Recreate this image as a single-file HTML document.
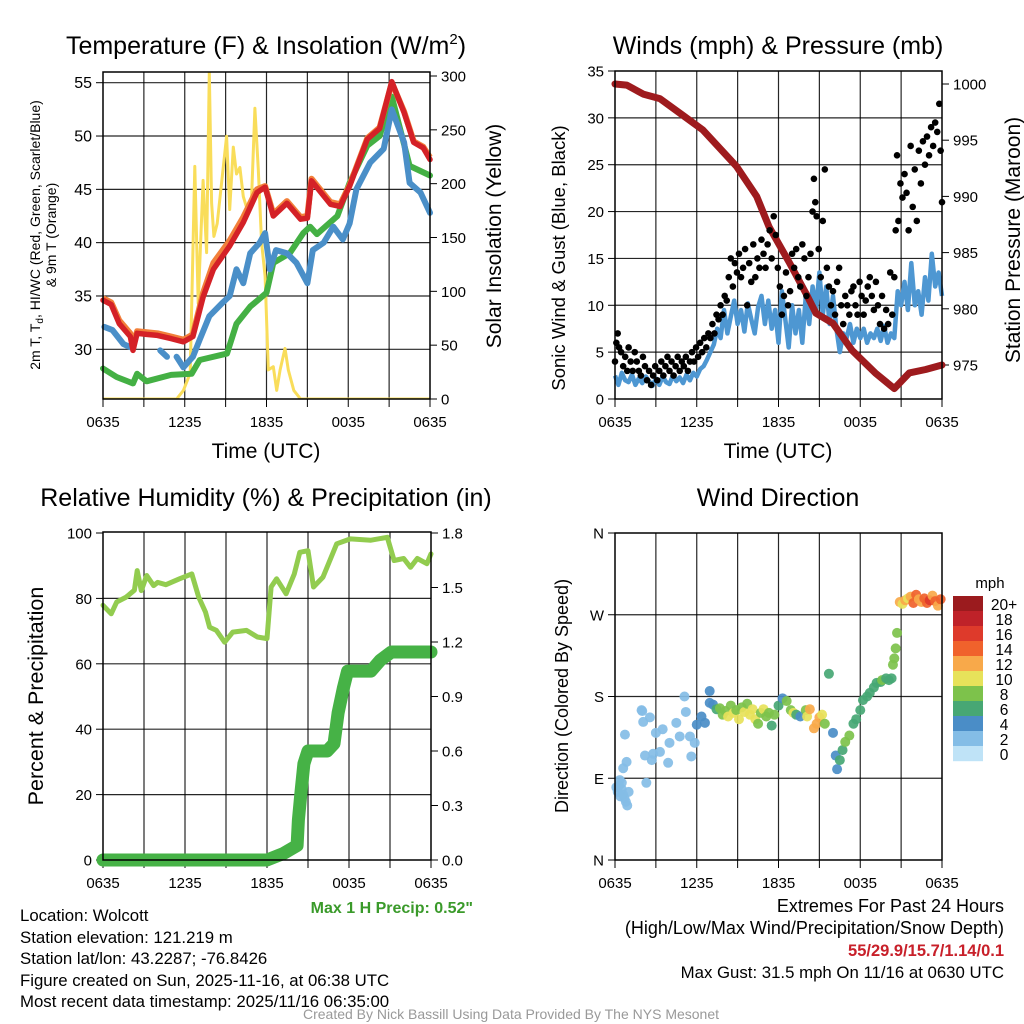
<!DOCTYPE html>
<html><head><meta charset="utf-8"><style>
body{margin:0;background:#fff;}
svg{display:block;font-family:"Liberation Sans",Arial,sans-serif;}
</style></head><body>
<svg id="fig" width="1024" height="1024" viewBox="0 0 1024 1024" xmlns="http://www.w3.org/2000/svg">
<rect width="1024" height="1024" fill="#fff"/>
<text x="266" y="54" font-size="25" text-anchor="middle">Temperature (F) &amp; Insolation (W/m<tspan dy="-10" font-size="15">2</tspan><tspan dy="10">)</tspan></text>
<text x="778" y="54" font-size="25" text-anchor="middle">Winds (mph) &amp; Pressure (mb)</text>
<text x="266" y="506" font-size="25" text-anchor="middle">Relative Humidity (%) &amp; Precipitation (in)</text>
<text x="778" y="506" font-size="25" text-anchor="middle">Wind Direction</text>
<text x="266" y="458" font-size="21" text-anchor="middle">Time (UTC)</text>
<text x="778" y="458" font-size="21" text-anchor="middle">Time (UTC)</text>
<text transform="translate(40,235) rotate(-90)" font-size="14" text-anchor="middle">2m T, T<tspan font-size="10" dy="3">d</tspan><tspan dy="-3">, HI/WC (Red, Green, Scarlet/Blue)</tspan></text>
<text transform="translate(56,235) rotate(-90)" font-size="14" text-anchor="middle">&amp; 9m T (Orange)</text>
<text transform="translate(501,236) rotate(-90)" font-size="21" text-anchor="middle">Solar Insolation (Yellow)</text>
<text transform="translate(565,258) rotate(-90)" font-size="18.5" text-anchor="middle">Sonic Wind &amp; Gust (Blue, Black)</text>
<text transform="translate(1020,240) rotate(-90)" font-size="21" text-anchor="middle">Station Pressure (Maroon)</text>
<text transform="translate(43,696) rotate(-90)" font-size="21.5" text-anchor="middle">Percent &amp; Precipitation</text>
<text transform="translate(568,696) rotate(-90)" font-size="18" text-anchor="middle">Direction (Colored By Speed)</text>
<text x="473" y="913" font-size="16" font-weight="bold" fill="#3a9a2a" text-anchor="end">Max 1 H Precip: 0.52"</text>
<g font-size="16.8">
<text x="20" y="921">Location: Wolcott</text>
<text x="20" y="943">Station elevation: 121.219 m</text>
<text x="20" y="964">Station lat/lon: 43.2287; -76.8426</text>
<text x="20" y="986">Figure created on Sun, 2025-11-16, at 06:38 UTC</text>
<text x="20" y="1007">Most recent data timestamp: 2025/11/16 06:35:00</text>
</g>
<g font-size="18" text-anchor="end">
<text x="1004" y="912">Extremes For Past 24 Hours</text>
<text x="1004" y="934">(High/Low/Max Wind/Precipitation/Snow Depth)</text>
<text x="1004" y="956" fill="#c8202a" font-weight="bold" font-size="16.5">55/29.9/15.7/1.14/0.1</text>
<text x="1004" y="978" font-size="16.8">Max Gust: 31.5 mph On 11/16 at 0630 UTC</text>
</g>
<text x="511" y="1019" font-size="14" fill="#999" text-anchor="middle">Created By Nick Bassill Using Data Provided By The NYS Mesonet</text>
<text x="990" y="588" font-size="15" text-anchor="middle">mph</text>
</svg>
<script>
// ---- shared time axis ----
const timeTickHours = [0, 6, 12, 18, 24];
const timeTickLabels = ['0635', '1235', '1835', '0035', '0635'];
const timeGridHours = [3, 6, 9, 12, 15, 18, 21];

// ---- panel 1: temperature & insolation ----
const tempTicks = [30, 35, 40, 45, 50, 55];
const solarTicks = [0, 50, 100, 150, 200, 250, 300];
const redHours = [0,0.6,1.2,2.0,2.2,2.5,3.2,4,5,5.9,6.6,7.35,8.1,9.3,10.3,11.3,11.9,12.5,13.5,14.5,15,15.3,16.7,17.4,18.1,19.4,20.3,21.2,22.1,22.8,23.5,24];
const redTemp = [34.6,34.2,32.4,31.2,29.9,31.5,31.4,31.3,31.0,30.7,31.2,34.9,37.5,39.7,41.9,44.7,45.2,42.5,43.7,42.2,42.3,45.8,43.6,43.4,45.3,49.7,50.7,55.1,52.2,49.4,48.9,47.8];
const orangeTemp = [34.8,34.4,32.7,31.5,30.4,31.7,31.6,31.5,31.2,30.9,31.4,35.3,38.1,40.2,42.4,45.0,45.3,42.7,43.9,42.4,42.5,46.0,43.8,43.6,45.4,49.8,50.8,55.0,52.3,49.5,49.0,48.0];
const greenHours = [0,1,2.2,2.5,3.2,5,6.5,7.1,9.1,9.8,10.8,12,12.5,13.7,14.7,15.2,15.7,17.2,18.1,19.4,20.3,21.2,22.5,24];
const greenTemp = [28.2,27.4,26.8,27.7,27.0,27.6,27.7,29.0,29.6,32.4,34.0,35.3,38.1,39.0,40.9,41.5,40.8,42.5,45.6,49.1,50.0,53.7,47.2,46.3];
const dewHours = [0.1,0.7,1.5,2.0,2.2,4.2,4.7,4.9,5.4,5.9,6.6,7.1,7.8,8.8,9.3,9.8,10.3,10.8,11.5,11.9,12.25,12.7,13.5,14.2,15.0,15.4,16.2,16.9,17.6,18.1,18.6,19.6,20.6,21.2,22.1,22.5,23.3,24];
const dewTemp = [32.1,31.8,30.5,30.2,null,29.9,29.3,null,29.3,28.3,29.3,30.9,33.1,34.4,35.0,37.5,36.2,39.0,40.0,40.9,37.5,39.3,39.0,38.1,36.2,39.3,40.0,41.5,40.3,41.8,45.0,47.5,48.8,52.5,49.4,45.6,44.7,42.8];
const solarHours = [0,5.4,5.9,6.4,6.74,6.99,7.35,7.6,7.8,7.97,8.14,8.38,8.7,9.07,9.3,9.56,9.8,10.05,10.3,10.66,10.9,11.15,11.4,11.64,11.9,12.13,12.5,12.75,13.0,13.36,13.6,14.0,14.5,24];
const solarWm2 = [0,0,8,24,216,89,203,136,304,182,151,163,200,244,176,234,209,215,188,173,185,270,213,145,114,27,30,8,27,47,27,8,0,0];

// ---- panel 2: winds & pressure ----
const windTicks = [0,5,10,15,20,25,30,35];
const pressTicks = [975,980,985,990,995,1000];
const pressHours = [0,0.86,2.07,3.29,5.0,6.46,8.9,10.4,11.3,12.8,14.0,14.75,16.0,17.4,19.1,20.5,21.6,22.8,24];
const pressMb = [1000,999.9,999.1,998.7,997.2,995.9,992.7,990,987.3,984.1,981.4,979.6,978.7,976.3,974.3,972.9,974.3,974.6,975.0];
const windSpeed = [2.5,1.5,2.8,2.0, 1.8,2.6,1.5,2.2, 1.7,2.4,1.9,1.4, 2.2,1.5,2.4,1.8, 1.6,2.5,1.9,2.3, 1.7,2.6,2.0,2.8, 2.4,3.2,3.5,4.2, 5.0,5.8,7.5,6.5, 9.5,7.0,8.8,10.5, 8.0,9.5,7.2,10.2, 8.5,7.0,9.8,11.0, 8.0,10.5,7.5,9.5, 6.0,11.5,8.5,5.5, 10.0,7.0,9.5,6.0, 11.0,8.0,12.0,9.5, 13.5,9.0,12.0,8.0, 11.0,7.5,5.0,7.0, 6.5,8.0,6.0,7.5, 6.5,7.5,6.0,7.0, 6.5,7.5,6.2,7.8, 6.0,7.0,6.5,11.5, 10.0,12.5,9.5,14.5, 10.0,11.5,9.0,13.0, 10.5,15.5,12.0,13.5, 11.0];
const windHours = windSpeed.map((v, i) => i * 0.25);
const gustHours = [0.0,0.1,0.2,0.3,0.45,0.6,0.75,0.9,1.0,1.15,1.3,1.45,1.6,1.75,1.9,2.05,2.2,2.35,2.5,2.65,2.8,2.95,3.1,3.25,3.4,3.55,3.7,3.85,4.0,4.15,4.3,4.45,4.6,4.75,4.9,5.05,5.2,5.35,5.5,5.65,5.8,5.95,6.1,6.25,6.4,6.55,6.7,6.85,7.0,7.15,7.3,7.45,7.6,7.75,7.9,8.05,8.2,8.35,8.5,8.65,8.8,8.95,9.1,9.25,9.4,9.55,9.7,9.85,10.0,10.15,10.3,10.45,10.6,10.75,10.9,11.05,11.2,11.35,11.5,11.65,11.8,11.95,12.1,12.25,12.4,12.55,12.7,12.85,13.0,13.15,13.3,13.45,13.6,13.75,13.9,14.05,14.2,14.35,14.5,14.6,14.7,14.8,14.95,15.1,15.25,15.4,15.55,15.7,15.85,16.0,16.15,16.3,16.45,16.6,16.75,16.9,17.05,17.2,17.35,17.5,17.65,17.8,17.95,18.1,18.25,18.4,18.55,18.7,18.85,19.0,19.15,19.3,19.45,19.6,19.75,19.9,20.05,20.2,20.35,20.5,20.6,20.7,20.8,20.95,21.1,21.25,21.4,21.55,21.7,21.85,22.0,22.15,22.3,22.45,22.6,22.75,22.9,23.05,23.2,23.35,23.5,23.65,23.8,23.9,24.0];
const gustSpeed = [4,6,7,5.5,5,3.5,4.5,3,5.5,4,3,5,4,3,2.5,4.5,3.5,2,3,1.5,2.5,3.5,2,3,4,2.5,3.5,4.5,3,4,2.5,3.5,4.5,3,4,3.5,4.5,3,4,5,4,5.5,4.5,6,5,6.5,5.5,7,6.5,8,7,9,8.5,10,9,11,10.5,13,15,12,14.5,13.5,15.5,13,14,16,10,14.5,12.5,16.5,13,15,14,17,15.5,14,16.5,18,15,19.5,17.5,14,12,9,11,13.5,10,11.5,15.5,14,16,13,12,16.5,15,11,13,15.5,20,23.5,21,19.5,16,13,19,24.5,14,12,10,11.5,9,12.5,14,10,8,11,10,9,11.5,12,10,9,12.5,11,9,10.5,12,13,11,9.5,12.5,10,8,11,7.5,9.5,8,13.5,9,13,18,26,19,23,21.5,24,22,18,27,20.5,24.5,19,26.5,23,27.5,25,28,26,29,27,29.5,28.5,31.5,26.5,21];

// ---- panel 3: RH & precipitation ----
const rhTicks = [0,20,40,60,80,100];
const precipTicks = ['0.0','0.3','0.6','0.9','1.2','1.5','1.8'];
const rhHours = [0,0.6,1.0,1.7,2.3,2.5,2.8,3.2,3.7,4.0,4.6,5.6,6.5,7.0,7.5,7.8,8.3,8.9,9.5,10.5,11.3,12.0,12.3,12.7,13.4,14.0,14.4,15.0,15.4,16.1,17.1,18.1,19.6,20.8,21.3,22.0,22.5,23.0,23.7,24];
const rhPct = [77.9,75.3,78.9,80.4,82.5,88.5,82.4,87,83.9,84.9,84.2,86,87.5,80.4,75.8,71.2,70.2,66.6,69.7,70.2,68.2,67.7,83.5,86,81.4,87.5,94.1,94.6,83.5,86.5,96.7,98.2,97.8,98.7,91.6,92.2,89.5,92.2,90.6,93.6];
const precipHours = [0,12.0,13.2,14.2,14.3,14.5,14.7,15.0,16.4,16.9,17.2,17.6,17.9,19.6,20.3,21.1,24];
const precipIn = [0,0,0.036,0.08,0.22,0.385,0.53,0.6,0.6,0.64,0.81,0.95,1.04,1.04,1.1,1.145,1.145];

// ---- panel 4: wind direction ----
const dirTickLabels = ['N','E','S','W','N'];
const dirTickDeg = [0,90,180,270,360];
const dirHours = [0.1,0.2,0.3,0.35,0.4,0.5,0.5,0.6,0.6,0.7,0.73,0.8,0.85,0.9,1.0,1.95,2.0,2.07,2.2,2.3,2.56,2.7,2.8,3.0,3.3,3.5,3.9,4.0,4.5,4.75,5.1,5.2,5.5,5.6,5.85,6.0,6.35,6.6,6.95,6.95,7.2,7.45,7.7,7.9,8.1,8.3,8.5,8.7,8.9,9.1,9.3,9.5,9.7,9.9,10.1,10.3,10.5,10.7,10.9,11.1,11.3,11.5,11.7,12.0,12.3,12.6,12.9,13.1,13.3,13.6,14.0,14.1,14.3,14.6,14.8,15.0,15.2,15.4,15.7,16.0,16.2,16.3,16.5,16.7,16.9,17.2,17.5,17.7,18.0,18.2,18.5,18.7,19.0,19.2,19.5,19.6,19.9,20.1,20.3,20.4,20.5,20.6,20.7,20.9,21.1,21.3,21.5,21.7,21.9,22.1,22.3,22.5,22.7,22.9,23.1,23.3,23.5,23.7,23.9];
const dirDeg = [80,75,82,88,70,78,85,72,101,68,138,64,108,60,75,165,164,152,115,85,157,110,117,140,119,144,107,129,151,136,180,163,136,114,129,149,158,151,186,173,171,166,167,160,164,158,170,162,165,155,168,163,172,160,166,155,150,162,166,158,162,148,160,170,178,175,165,162,160,158,165,158,166,145,150,157,160,150,205,140,115,100,110,121,130,137,150,155,165,176,180,184,190,195,196,198,200,198,200,215,222,233,250,284,282,286,288,290,283,292,287,284,288,283,286,291,285,280,287,282,286];
const dirSpeed = [2,2,2,2,2,2,2,2,2,2,1,2,1,2,1,1,2,1,2,2,2,2,1,2,2,2,2,2,2,2,2,2,2,2,2,3,4,4,4,4,4,5,7,8,7,9,8,9,7,10,8,9,8,10,9,10,8,7,10,8,8,6,8,5,4,7,8,9,6,4,8,10,12,11,12,12,10,8,6,4,4,4,6,6,7,7,6,5,6,6,6,6,6,6,6,7,6,6,6,7,7,7,8,11,10,12,10,12,13,14,12,12,13,14,16,12,13,12,14,12,15];
const cbLabels = ['20+','18','16','14','12','10','8','6','4','2','0'];
const cbColors = ['#9b1b1e','#bf2229','#de3a2b','#f0622c','#f8a94a','#e7e25a','#7dc24b','#47a774','#4a8dc7','#84bde6','#bfe3f7'];

const NS = 'http://www.w3.org/2000/svg';
const svg = document.getElementById('fig');
function mk(tag, attrs, parent) {
  const e = document.createElementNS(NS, tag);
  for (const k in attrs) e.setAttribute(k, attrs[k]);
  (parent || svg).appendChild(e);
  return e;
}
function txt(x, y, s, size, anchor, parent) {
  const t = mk('text', {x: x, y: y, 'font-size': size, 'text-anchor': anchor}, parent);
  t.textContent = s;
  return t;
}
function linear(d0, d1, r0, r1) { return v => r0 + (v - d0) * (r1 - r0) / (d1 - d0); }
function pathFrom(xs, ys, sx, sy) {
  let d = '', pen = false;
  for (let i = 0; i < xs.length; i++) {
    if (ys[i] === null) { pen = false; continue; }
    d += (pen ? 'L' : 'M') + sx(xs[i]).toFixed(1) + ',' + sy(ys[i]).toFixed(1);
    pen = true;
  }
  return d;
}

function frame(P, key) {
  const g = mk('g', {});
  
  
  timeGridHours.forEach(h => {
    const l = mk('line', {x1: P.sx(h), x2: P.sx(h), y1: P.y0, y2: P.y1, stroke: '#000', 'stroke-width': 1.2, 'stroke-opacity': 0.85}, g);
    
    
  });
  [0, 3, 6, 9, 12, 15, 18, 21, 24].forEach(h => {
    const tk = mk('line', {x1: P.sx(h), x2: P.sx(h), y1: P.y1, y2: P.y1 + 8, stroke: '#000', 'stroke-width': 1}, g);
    
    
  });
  timeTickHours.forEach((h, i) => {
    const t = txt(P.sx(h), P.y1 + 28, timeTickLabels[i], 15, 'middle', g);
    
    
  });
  return g;
}
function border(P, key) {
  const r = mk('rect', {x: P.x0, y: P.y0, width: P.x1 - P.x0, height: P.y1 - P.y0, fill: 'none', stroke: '#000', 'stroke-width': 1.5});
  
  
}
function hgrid(P, ys, g) {
  ys.forEach(y => {
    const l = mk('line', {x1: P.x0, x2: P.x1, y1: y, y2: y, stroke: '#000', 'stroke-width': 1.2, 'stroke-opacity': 0.85}, g);
    
    
  });
}
function yticks(P, vals, labels, sy, side, g, size) {
  vals.forEach((v, i) => {
    const y = sy(v);
    const x = side === 'left' ? P.x0 : P.x1;
    const dx = side === 'left' ? -7 : 7;
    const tk = mk('line', {x1: x, x2: x + dx, y1: y, y2: y, stroke: '#000', 'stroke-width': 1}, g);
    
    
    const t = txt(side === 'left' ? x - 11 : x + 11, y + 5.5, labels[i], size || 15, side === 'left' ? 'end' : 'start', g);
    
    
  });
}

// ===== Panel 1 =====
const P1 = {x0: 103, x1: 430, y0: 72, y1: 399};
P1.sx = linear(0, 24, P1.x0, P1.x1);
const t1 = linear(30, 55, 349.3, 82.7);
const s1 = linear(0, 300, 399, 76);
const g1 = frame(P1, 'temp');
hgrid(P1, tempTicks.map(t1), g1);
yticks(P1, tempTicks, tempTicks.map(String), t1, 'left', g1, 16);
yticks(P1, solarTicks, solarTicks.map(String), s1, 'right', g1, 15);
const clip1 = mk('clipPath', {id: 'c1'});
mk('rect', {x: P1.x0, y: P1.y0, width: P1.x1 - P1.x0, height: P1.y1 - P1.y0}, clip1);
const solar = mk('path', {d: pathFrom(solarHours, solarWm2, P1.sx, s1), fill: 'none', stroke: '#f9dd5a', 'stroke-width': 3, 'clip-path': 'url(#c1)', 'stroke-linejoin': 'round'});


const green = mk('path', {d: pathFrom(greenHours, greenTemp, P1.sx, t1), fill: 'none', stroke: '#44b044', 'stroke-width': 6, 'stroke-linejoin': 'round', 'stroke-linecap': 'round'});


const dew = mk('path', {d: pathFrom(dewHours, dewTemp, P1.sx, t1), fill: 'none', stroke: '#4a8fc8', 'stroke-width': 6, 'stroke-linejoin': 'round', 'stroke-linecap': 'round'});


const orange = mk('path', {d: pathFrom(redHours, orangeTemp, P1.sx, t1), fill: 'none', stroke: '#f2803a', 'stroke-width': 6, 'stroke-linejoin': 'round'});


const red = mk('path', {d: pathFrom(redHours, redTemp, P1.sx, t1), fill: 'none', stroke: '#d42127', 'stroke-width': 5.5, 'stroke-linejoin': 'round', 'stroke-linecap': 'round'});


border(P1, 'temp');

// ===== Panel 2 =====
const P2 = {x0: 615, x1: 942, y0: 71, y1: 399};
P2.sx = linear(0, 24, P2.x0, P2.x1);
const w2 = linear(0, 35, 399, 71);
const p2 = linear(975, 1000, 365, 84);
const g2 = frame(P2, 'wind');
hgrid(P2, windTicks.slice(1, 7).map(w2), g2);
yticks(P2, windTicks, windTicks.map(String), w2, 'left', g2, 15);
yticks(P2, pressTicks, pressTicks.map(String), p2, 'right', g2, 15);
const wl = mk('path', {d: pathFrom(windHours, windSpeed, P2.sx, w2), fill: 'none', stroke: '#4e97d2', 'stroke-width': 4.5, 'stroke-linejoin': 'round'});


const pl = mk('path', {d: pathFrom(pressHours, pressMb, P2.sx, p2), fill: 'none', stroke: '#9e1b1e', 'stroke-width': 7, 'stroke-linejoin': 'round', 'stroke-linecap': 'round'});


const gg = mk('g', {});


gustHours.forEach((h, i) => {
  const c = mk('circle', {cx: P2.sx(h), cy: w2(gustSpeed[i]), r: 3.3, fill: '#000'}, gg);
  
  
});
border(P2, 'wind');

// ===== Panel 3 =====
const P3 = {x0: 103, x1: 431, y0: 532, y1: 860};
P3.sx = linear(0, 24, P3.x0, P3.x1);
const r3 = linear(0, 100, 860, 533);
const q3 = linear(0, 1.8, 860, 533);
const g3 = frame(P3, 'rh');
hgrid(P3, [20, 40, 60, 80].map(r3), g3);
yticks(P3, rhTicks, rhTicks.map(String), r3, 'left', g3, 15);
yticks(P3, precipTicks.map(Number), precipTicks, q3, 'right', g3, 15);
const rhl = mk('path', {d: pathFrom(rhHours, rhPct, P3.sx, r3), fill: 'none', stroke: '#92cc4f', 'stroke-width': 5, 'stroke-linejoin': 'round', 'stroke-linecap': 'round'});


const prl = mk('path', {d: pathFrom(precipHours, precipIn, P3.sx, q3), fill: 'none', stroke: '#46b246', 'stroke-width': 13, 'stroke-linejoin': 'round', 'stroke-linecap': 'round'});


border(P3, 'rh');

// ===== Panel 4 =====
const P4 = {x0: 615, x1: 942, y0: 533, y1: 860};
P4.sx = linear(0, 24, P4.x0, P4.x1);
const d4 = linear(0, 360, 860, 533);
const g4 = frame(P4, 'wdir');
hgrid(P4, [90, 180, 270].map(d4), g4);
yticks(P4, dirTickDeg, dirTickLabels, d4, 'left', g4, 15);
const dg = mk('g', {});


dirHours.forEach((h, i) => {
  const idx = Math.max(0, Math.min(10, 10 - Math.round(dirSpeed[i] / 2)));
  const c = mk('circle', {cx: P4.sx(h), cy: d4(dirDeg[i]), r: 5, fill: cbColors[idx], 'fill-opacity': 0.92}, dg);
  
  
});
border(P4, 'wdir');

// colorbar
const cb = mk('g', {});


cbLabels.forEach((lab, i) => {
  const y = 596 + i * 15;
  const r = mk('rect', {x: 953, y: y, width: 30, height: 15.2, fill: cbColors[i]}, cb);
  
  
  const t = txt(1004, y + 14, lab, 15.5, 'middle', cb);
  
  
});
</script>
</body></html>
